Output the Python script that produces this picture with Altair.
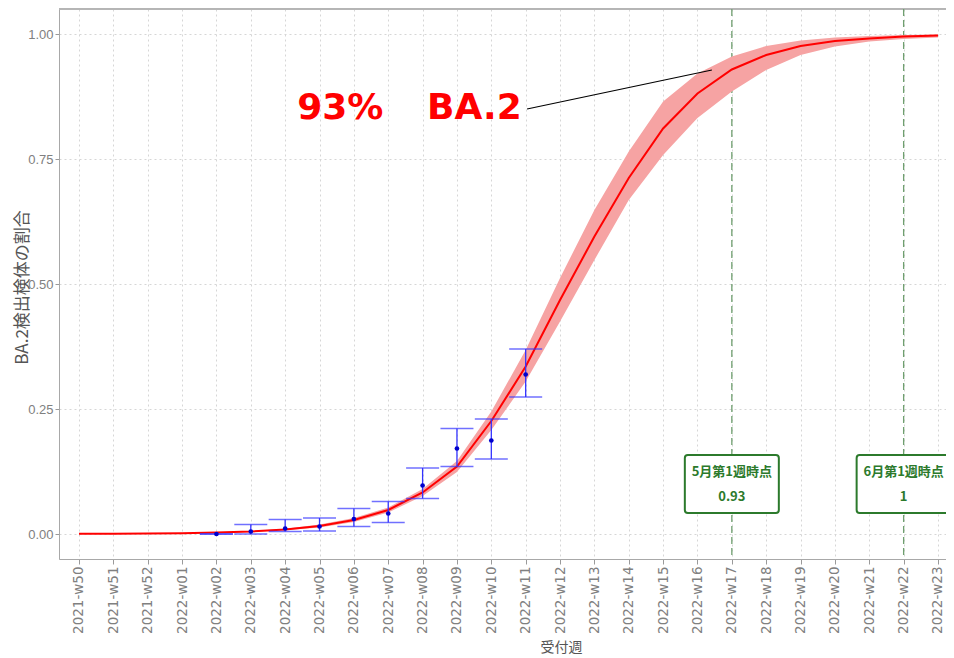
import json
import altair as alt
import pandas as pd

# ---------------- data ----------------
weeks = [
    "2021-w50", "2021-w51", "2021-w52",
    "2022-w01", "2022-w02", "2022-w03", "2022-w04", "2022-w05", "2022-w06",
    "2022-w07", "2022-w08", "2022-w09", "2022-w10", "2022-w11", "2022-w12",
    "2022-w13", "2022-w14", "2022-w15", "2022-w16", "2022-w17", "2022-w18",
    "2022-w19", "2022-w20", "2022-w21", "2022-w22", "2022-w23",
]
fit = [0.0005, 0.0007, 0.001, 0.0016, 0.003, 0.005, 0.009, 0.016, 0.028,
       0.048, 0.083, 0.135, 0.226, 0.335, 0.468, 0.595, 0.712, 0.811,
       0.881, 0.929, 0.958, 0.976, 0.986, 0.991, 0.995, 0.997]
fit_lo = [0.0004, 0.0006, 0.0008, 0.0013, 0.0025, 0.004, 0.0075, 0.013, 0.024,
          0.043, 0.076, 0.124, 0.208, 0.305, 0.425, 0.548, 0.668, 0.758,
          0.832, 0.885, 0.928, 0.958, 0.975, 0.985, 0.990, 0.993]
fit_hi = [0.0006, 0.0009, 0.0012, 0.0019, 0.0035, 0.006, 0.0105, 0.019, 0.032,
          0.053, 0.090, 0.146, 0.245, 0.368, 0.512, 0.648, 0.765, 0.865,
          0.921, 0.955, 0.976, 0.987, 0.993, 0.996, 0.998, 0.999]

obs_weeks = ["2022-w02", "2022-w03", "2022-w04", "2022-w05", "2022-w06",
             "2022-w07", "2022-w08", "2022-w09", "2022-w10", "2022-w11"]
obs = [0.0, 0.005, 0.011, 0.015, 0.030, 0.041, 0.097, 0.171, 0.187, 0.319]
obs_lo = [0.0, 0.0, 0.005, 0.006, 0.015, 0.023, 0.071, 0.135, 0.150, 0.274]
obs_hi = [0.0, 0.019, 0.029, 0.032, 0.051, 0.065, 0.132, 0.211, 0.230, 0.370]

marker_weeks = ["2022-w17", "2022-w22"]
marker_titles = ["5月第1週時点", "6月第1週時点"]
marker_values = ["0.93", "1"]

# ---------------- frames ----------------
idx = {w: i for i, w in enumerate(weeks)}
curve = pd.DataFrame({"idx": [idx[w] for w in weeks], "fit": fit, "lo": fit_lo, "hi": fit_hi})
points = pd.DataFrame({"idx": [idx[w] for w in obs_weeks], "obs": obs, "lo": obs_lo, "hi": obs_hi})
markers = pd.DataFrame({"idx": [idx[w] for w in marker_weeks], "title": marker_titles,
                        "val": marker_values, "ypos": [0.1, 0.1]})
labels = pd.DataFrame({"x": [6.35, 10.13], "y": [0.83, 0.83], "t": ["93%", "BA.2"]})
pointer = pd.DataFrame({"x": [13.04], "y": [0.85], "x2": [18.42], "y2": [0.928]})

W, H = 887, 550
xscale = alt.Scale(domain=[-0.582, 25.233], nice=False, zero=False)
yscale = alt.Scale(domain=[-0.05, 1.05], nice=False, zero=False)
label_expr = json.dumps(weeks) + "[datum.value]"

xaxis = alt.Axis(values=list(range(len(weeks))), labelExpr=label_expr, labelAngle=270,
                 title="受付週", titleX=502, titleY=88, titleAlign="center",
                 titleBaseline="middle", titleFont="Noto Sans CJK JP", titleFontSize=14,
                 titleFontWeight="normal", titleColor="#555555",
                 labelFont="DejaVu Sans", labelFontSize=13.5, labelColor="#808080",
                 labelPadding=2, tickSize=5, tickColor="#9a9a9a",
                 domainColor="#a8a8a8", grid=True, gridColor="#d6d6d6",
                 gridDash=[2, 3], gridWidth=1)
yaxis = alt.Axis(values=[0, 0.25, 0.5, 0.75, 1.0], format=".2f",
                 title="BA.2検出検体の割合", titleX=-37, titleY=278, titleAlign="center",
                 titleBaseline="middle", titleFont="Noto Sans CJK JP", titleFontSize=17,
                 titleFontWeight="normal", titleColor="#555555",
                 labelFont="Liberation Sans", labelFontSize=13, labelColor="#808080",
                 labelPadding=2, tickSize=4, tickColor="#9a9a9a",
                 domainColor="#a8a8a8", grid=True, gridColor="#d6d6d6",
                 gridDash=[2, 3], gridWidth=1)


def X(field):
    return alt.X(f"{field}:Q", scale=xscale, axis=xaxis)


def Y(field):
    return alt.Y(f"{field}:Q", scale=yscale, axis=yaxis)


frame_top = alt.Chart(curve).mark_rule(color="#b5b5b5", strokeWidth=1).encode(
    y=alt.value(0), x=alt.value(0), x2=alt.value(W))

vlines = alt.Chart(markers).mark_rule(color="#6f9f6f", strokeWidth=1.3,
                                      strokeDash=[7, 4]).encode(x=X("idx"))

band = alt.Chart(curve).mark_area(color="#f6a3a3", opacity=1).encode(
    x=X("idx"), y=Y("lo"), y2="hi")

line = alt.Chart(curve).mark_line(color="#ff0000", strokeWidth=2).encode(
    x=X("idx"), y=Y("fit"))

err = alt.Chart(points).mark_rule(color="#3333ff", strokeWidth=1.3).encode(
    x=X("idx"), y=Y("lo"), y2="hi")
cap_lo = alt.Chart(points).mark_tick(color="#3333ff", orient="horizontal",
                                     size=33, thickness=1.3).encode(x=X("idx"), y=Y("lo"))
cap_hi = alt.Chart(points).mark_tick(color="#3333ff", orient="horizontal",
                                     size=33, thickness=1.3).encode(x=X("idx"), y=Y("hi"))
dots = alt.Chart(points).mark_circle(color="#0000cc", size=22, opacity=1).encode(
    x=X("idx"), y=Y("obs"))

boxes = alt.Chart(markers).mark_rect(width=94, height=58, fill="white",
                                     stroke="#2c7a2c", strokeWidth=2,
                                     cornerRadius=3).encode(x=X("idx"), y=Y("ypos"))
box_t1 = alt.Chart(markers).mark_text(font="Noto Sans CJK JP", fontSize=13,
                                      fontWeight="bold",
                                      color="#2c7a2c", dy=-12).encode(
    x=X("idx"), y=Y("ypos"), text="title:N")
box_t2 = alt.Chart(markers).mark_text(font="Noto Sans CJK JP", fontSize=13,
                                      fontWeight="bold",
                                      color="#2c7a2c", dy=13).encode(
    x=X("idx"), y=Y("ypos"), text="val:N")

big = alt.Chart(labels).mark_text(font="DejaVu Sans", fontSize=36, fontWeight="bold",
                                  color="#ff0000", align="left",
                                  baseline="alphabetic").encode(
    x=X("x"), y=Y("y"), text="t:N")

ptr = alt.Chart(pointer).mark_rule(color="black", strokeWidth=1.2).encode(
    x=X("x"), y=Y("y"), x2="x2", y2="y2")

chart = alt.layer(
    frame_top, vlines, band, line, err, cap_lo, cap_hi, dots,
    boxes, box_t1, box_t2, big, ptr
).properties(
    width=W, height=H,
    autosize=alt.AutoSizeParams(type="none"),
    padding={"left": 51, "top": 1, "right": 0, "bottom": 98},
).configure_view(stroke=None).configure(background="white")

chart.save("out.html", embed_options={"renderer": "svg", "actions": False})
